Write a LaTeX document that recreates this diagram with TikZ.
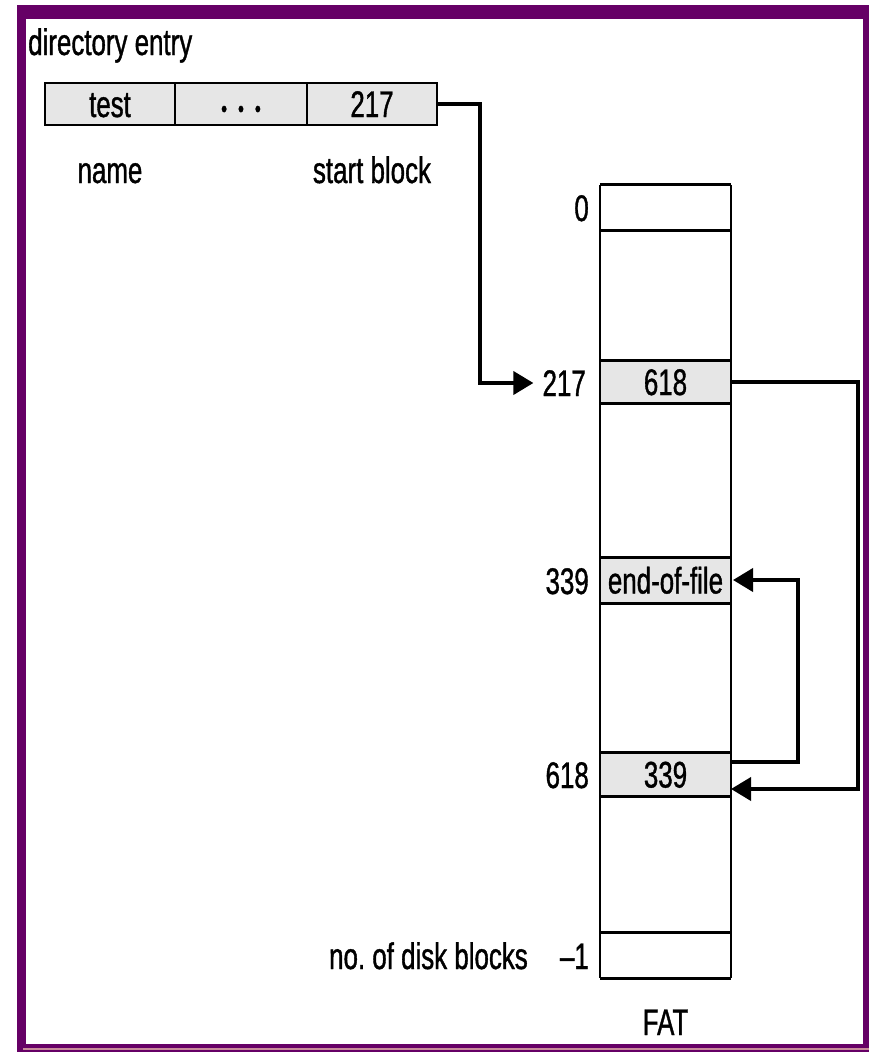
\documentclass[tikz,border=0pt]{standalone}
\usepackage{fontspec}
\setmainfont{Liberation Sans}[FakeStretch=0.70,FakeBold=1.0]
\usetikzlibrary{arrows.meta}
\definecolor{framepurple}{HTML}{660066}
\definecolor{framepink}{HTML}{C88A9A}
\definecolor{cellgray}{HTML}{E6E6E6}
\begin{document}
\frenchspacing
\begin{tikzpicture}[x=1pt,y=-1pt,
  every node/.style={font=\fontsize{37}{42}\selectfont, inner sep=0pt, text height=26pt, text depth=0pt},
  dircell/.style={draw, line width=2.4pt, fill=cellgray, minimum height=42pt},
  fatrow/.style={minimum width=131pt},
  hline/.style={line width=3pt},
  vline/.style={line width=1.8pt},
  conn/.style={line width=3.8pt, -{Triangle[length=20pt,width=23pt]}},
  lbl/.style={}
]
\useasboundingbox (0,0) rectangle (869,1052);
% frame
\fill[framepurple] (17,5) rectangle (869,1052);
\fill[white] (26,19) rectangle (863,1044);
\fill[framepink] (23,1047.5) rectangle (869,1049.5);

% directory entry
\node[lbl, anchor=west] (title) at (28,42) {directory entry};
\node[dircell, minimum width=130pt] (dtest) at (110,104) {test};
\node[dircell, minimum width=132pt] (ddots) at (241,104) {\fontsize{24}{24}\selectfont\textbullet\hspace{11pt}\textbullet\hspace{11pt}\textbullet};
\node[dircell, minimum width=130pt] (d217) at (372,104) {217};
\node[lbl] (lname) at (110,170) {name};
\node[lbl] (lstart) at (372,170) {start block};

% FAT rows
\node[fatrow, minimum height=45pt] (r0) at (665.5,207.5) {};
\node[fatrow, minimum height=42pt, fill=cellgray] (r217) at (665.5,382) {618};
\node[fatrow, minimum height=45pt, fill=cellgray] (r339) at (665.5,580.5) {end-of-file};
\node[fatrow, minimum height=43pt, fill=cellgray] (r618) at (665.5,774.5) {339};
\node[fatrow, minimum height=45pt] (rN) at (665.5,955.5) {};

\foreach \r in {r0,r217,r339,r618,rN}{
  \draw[hline] (\r.north west) -- (\r.north east);
  \draw[hline] (\r.south west) -- (\r.south east);
}
\draw[vline] (r0.north west) -- (rN.south west);
\draw[vline] (r0.north east) -- (rN.south east);

% FAT labels
\node[lbl, anchor=east] (l0) at (589,208) {0};
\node[lbl, anchor=east] (l217) at (586,383) {217};
\node[lbl, anchor=east] (l339) at (589,581) {339};
\node[lbl, anchor=east] (l618) at (589,775) {618};
\node[lbl, anchor=east] (lm1) at (589,956) {\textendash1};
\node[lbl, anchor=east] (lnblocks) at (528,956) {no. of disk blocks};
\node[lbl] (lfat) at (665.5,1022) {FAT};

% connectors
\coordinate (r618out) at (731,762);
\coordinate (r618in) at (731,789);
\coordinate (r339in) at (733,580);
\draw[conn] (d217.east) -- ++(42,0) |- ([xshift=-9pt]l217.west);
\draw[conn] (r217.east) -- ++(127,0) |- (r618in);
\draw[conn] (r618out) -- ++(67,0) |- (r339in);
\end{tikzpicture}
\end{document}
